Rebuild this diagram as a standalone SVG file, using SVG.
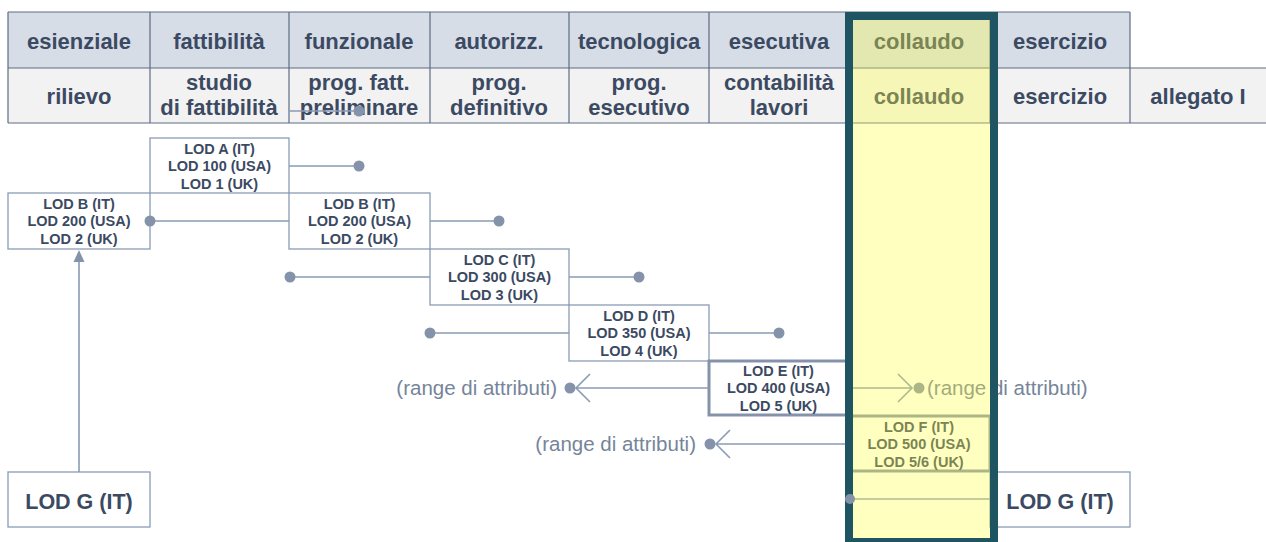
<svg xmlns="http://www.w3.org/2000/svg" width="1266" height="542" viewBox="0 0 1266 542">
<style>
.th{font-family:"Liberation Sans",Arial,sans-serif;font-weight:bold;font-size:22px;fill:#3b4a62;text-anchor:middle}
.lod{font-family:"Liberation Sans",Arial,sans-serif;font-weight:bold;font-size:14.5px;fill:#3b4a62;text-anchor:middle}
.big{font-family:"Liberation Sans",Arial,sans-serif;font-weight:bold;font-size:21.5px;fill:#3b4a62;text-anchor:middle}
.rng{font-family:"Liberation Sans",Arial,sans-serif;font-size:20.5px;fill:#76849a}
.box{fill:#ffffff;stroke:#8a9bb5;stroke-width:1.3}
.boxb{fill:#ffffff;stroke:#8593aa;stroke-width:3}
.ln{stroke:#8a9bb5;stroke-width:1.6;fill:none}
.dot{fill:#8593aa}
.grid{stroke:#5d6d84;stroke-width:1.2;fill:none}
</style>
<rect width="1266" height="542" fill="#ffffff"/>
<g id="table">
<rect x="8" y="12" width="1122" height="56" fill="#d6dde7"/>
<rect x="8" y="68" width="1258" height="55" fill="#f2f2f2"/>
<path class="grid" d="M8 12H1130M8 68H1266M8 123H1266M8 12V123M150 12V123M289 12V123M430 12V123M569 12V123M709 12V123M848 12V123M990 12V123M1130 12V123"/>
<text class="th" x="79" y="49">esienziale</text>
<text class="th" x="219" y="49">fattibilità</text>
<text class="th" x="359" y="49">funzionale</text>
<text class="th" x="499" y="49">autorizz.</text>
<text class="th" x="639" y="49">tecnologica</text>
<text class="th" x="779" y="49">esecutiva</text>
<text class="th" x="919" y="49">collaudo</text>
<text class="th" x="1060" y="49">esercizio</text>
<text class="th" x="79" y="104">rilievo</text>
<text class="th" x="219" y="90">studio</text>
<text class="th" x="219" y="115">di fattibilità</text>
<text class="th" x="359" y="90">prog. fatt.</text>
<text class="th" x="359" y="115">preliminare</text>
<text class="th" x="499" y="90">prog.</text>
<text class="th" x="499" y="115">definitivo</text>
<text class="th" x="639" y="90">prog.</text>
<text class="th" x="639" y="115">esecutivo</text>
<text class="th" x="779" y="90">contabilità</text>
<text class="th" x="779" y="115">lavori</text>
<text class="th" x="919" y="104">collaudo</text>
<text class="th" x="1060" y="104">esercizio</text>
<text class="th" x="1198" y="104">allegato I</text>
</g>
<g id="lodA"><rect class="box" x="150" y="138" width="139" height="55"/>
<text class="lod" x="219.5" y="154">LOD A (IT)</text><text class="lod" x="219.5" y="171">LOD 100 (USA)</text><text class="lod" x="219.5" y="189">LOD 1 (UK)</text></g>
<g id="lodB1"><rect class="box" x="8" y="193" width="142" height="56"/>
<text class="lod" x="79" y="209">LOD B (IT)</text><text class="lod" x="79" y="226">LOD 200 (USA)</text><text class="lod" x="79" y="244">LOD 2 (UK)</text></g>
<g id="lodB2"><rect class="box" x="289" y="193" width="141" height="56"/>
<text class="lod" x="359.5" y="209">LOD B (IT)</text><text class="lod" x="359.5" y="226">LOD 200 (USA)</text><text class="lod" x="359.5" y="244">LOD 2 (UK)</text></g>
<g id="lodC"><rect class="box" x="430" y="249" width="139" height="56"/>
<text class="lod" x="499.5" y="265">LOD C (IT)</text><text class="lod" x="499.5" y="282">LOD 300 (USA)</text><text class="lod" x="499.5" y="300">LOD 3 (UK)</text></g>
<g id="lodD"><rect class="box" x="569" y="305" width="140" height="56"/>
<text class="lod" x="639" y="321">LOD D (IT)</text><text class="lod" x="639" y="338">LOD 350 (USA)</text><text class="lod" x="639" y="356">LOD 4 (UK)</text></g>
<g id="lodE"><rect class="boxb" x="709" y="361" width="139" height="54"/>
<text class="lod" x="778.5" y="376">LOD E (IT)</text><text class="lod" x="778.5" y="393">LOD 400 (USA)</text><text class="lod" x="778.5" y="411">LOD 5 (UK)</text></g>
<g id="lodF"><rect class="boxb" x="849" y="416" width="141" height="55"/>
<text class="lod" x="919" y="432">LOD F (IT)</text><text class="lod" x="919" y="449">LOD 500 (USA)</text><text class="lod" x="919" y="467">LOD 5/6 (UK)</text></g>
<g id="lodG1"><rect class="box" x="8" y="472" width="142" height="55"/>
<text class="big" x="79" y="509">LOD G (IT)</text></g>
<g id="lodG2"><rect class="box" x="990" y="472" width="140" height="55"/>
<text class="big" x="1060" y="509">LOD G (IT)</text></g>
<g id="connectors">
<path class="ln" d="M289 111H359M289 166H359M150 221H289M430 221H499M290 277H430M569 277H639M430 333H569M709 333H779"/>
<circle class="dot" cx="359" cy="111" r="5.5"/>
<circle class="dot" cx="359" cy="166" r="5.5"/>
<circle class="dot" cx="150" cy="221" r="5.5"/>
<circle class="dot" cx="499" cy="221" r="5.5"/>
<circle class="dot" cx="290" cy="277" r="5.5"/>
<circle class="dot" cx="639" cy="277" r="5.5"/>
<circle class="dot" cx="430" cy="333" r="5.5"/>
<circle class="dot" cx="779" cy="333" r="5.5"/>
<path class="ln" d="M709 388H576M590 374L576 388L590 402"/>
<circle class="dot" cx="570" cy="388" r="5.5"/>
<path class="ln" d="M848 444H716M730 430L716 444L730 458"/>
<circle class="dot" cx="710" cy="444" r="5.5"/>
<path class="ln" d="M848 388H912M898 374L912 388L898 402"/>
<circle class="dot" cx="919" cy="388" r="5.5"/>
<path class="ln" d="M850 499H990"/>
<path class="ln" d="M79 472V259"/>
<polygon class="dot" points="79,250 73.5,262 84.5,262"/>
</g>
<g id="range-labels">
<text class="rng" x="557" y="395" text-anchor="end">(range di attributi)</text>
<text class="rng" x="696" y="451" text-anchor="end">(range di attributi)</text>
<text class="rng" x="927" y="395">(range di attributi)</text>
</g>
<g id="collaudo-highlight">
<rect x="849" y="12" width="145" height="530" fill="#ffff3c" fill-opacity="0.32"/>
<rect x="849" y="16" width="145" height="526" fill="none" stroke="#1f5563" stroke-width="8"/>
<circle class="dot" cx="850" cy="499" r="5"/>
</g>
</svg>
